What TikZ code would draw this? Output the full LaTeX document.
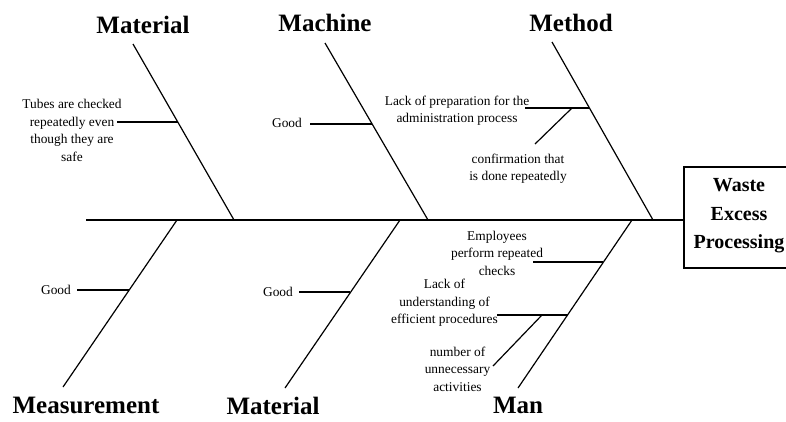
\documentclass[tikz,border=0pt]{standalone}
\usepackage{fontspec}
\setmainfont{Liberation Serif}
\usetikzlibrary{calc}

\tikzset{
  bone/.style={line width=1.2pt},
  twig/.style={line width=1.2pt},
  cause/.style={inner sep=0pt, align=center, font=\fontsize{13.4}{17.5}\selectfont},
  category/.style={inner sep=0pt, font=\fontsize{25}{28}\selectfont\bfseries},
  effect/.style={inner sep=0pt, align=center, font=\fontsize{20}{28.5}\selectfont\bfseries}
}

\begin{document}
\begin{tikzpicture}[x=1pt, y=-1pt]
		\useasboundingbox (0, 0) rectangle (786, 421);
		%%%%% START %%%%%
		% spine and effect box
		\coordinate (tail) at (86, 220);
		\coordinate (head) at (684, 220);
		\draw[line width=2.4pt] (684, 167) rectangle (792, 268);
		\node[effect] (waste) at (739, 216) {Waste\\Excess\\Processing};
		\draw[bone] (tail) -- (head);
		
		% upper bones
		\coordinate (matTop) at (133, 44);
		\coordinate (matFoot) at (234, 220);
		\coordinate (macTop) at (325, 43);
		\coordinate (macFoot) at (428, 220);
		\coordinate (metTop) at (552, 42);
		\coordinate (metFoot) at (653, 220);
		\draw[bone] (matTop) -- (matFoot);
		\draw[bone] (macTop) -- (macFoot);
		\draw[bone] (metTop) -- (metFoot);
		
		% lower bones
		\coordinate (measFoot) at (177, 220);
		\coordinate (measEnd) at (63, 387);
		\coordinate (matbFoot) at (400, 220);
		\coordinate (matbEnd) at (285, 388);
		\coordinate (manFoot) at (632, 220);
		\coordinate (manEnd) at (518, 388);
		\draw[bone] (measFoot) -- (measEnd);
		\draw[bone] (matbFoot) -- (matbEnd);
		\draw[bone] (manFoot) -- (manEnd);
		
		% category labels
		\node[category] (material) at (143, 25) {Material};
		\node[category] (machine) at (325, 23) {Machine};
		\node[category] (method) at (571, 23) {Method};
		\node[category] (measurement) at (86, 405) {Measurement};
		\node[category] (materialb) at (273, 406) {Material};
		\node[category] (man) at (518, 405) {Man};
		
		% Material causes
		\node[cause] (tubes) at (72, 130.5) {Tubes are checked\\repeatedly even\\though they are\\safe};
		\coordinate (tubesA) at (117, 122);
		\coordinate (tubesB) at (178, 122);
		\draw[twig] (tubesA) -- (tubesB);
		
		% Machine causes
		\node[cause] (goodMac) at (287, 123) {Good};
		\coordinate (goodMacA) at (310, 124);
		\coordinate (goodMacB) at (372, 124);
		\draw[twig] (goodMacA) -- (goodMacB);
		
		% Method causes
		\node[cause] (prep) at (457, 110.5) {Lack of preparation for the\\administration process};
		\coordinate (prepA) at (525, 108);
		\coordinate (prepB) at (589, 108);
		\draw[twig] (prepA) -- (prepB);
		\node[cause] (confirm) at (518, 168.5) {confirmation that\\is done repeatedly};
		\coordinate (confirmA) at (572, 108);
		\coordinate (confirmB) at (535, 144);
		\draw[twig] (confirmA) -- (confirmB);
		
		% Measurement causes
		\node[cause] (goodMeas) at (56, 290) {Good};
		\coordinate (goodMeasA) at (77, 290);
		\coordinate (goodMeasB) at (129, 290);
		\draw[twig] (goodMeasA) -- (goodMeasB);
		
		% lower Material causes
		\node[cause] (goodMatb) at (278, 292) {Good};
		\coordinate (goodMatbA) at (299, 292);
		\coordinate (goodMatbB) at (350, 292);
		\draw[twig] (goodMatbA) -- (goodMatbB);
		
		% Man causes
		\node[cause] (employees) at (497, 253) {Employees\\perform repeated\\checks};
		\coordinate (employeesA) at (533, 262);
		\coordinate (employeesB) at (603, 262);
		\draw[twig] (employeesA) -- (employeesB);
		\node[cause] (procedures) at (444.5, 303) {Lack of\\understanding of\\efficient procedures};
		\coordinate (proceduresA) at (497, 315);
		\coordinate (proceduresB) at (568, 315);
		\draw[twig] (proceduresA) -- (proceduresB);
		\node[cause] (activities) at (457.5, 369) {number of\\unnecessary\\activities};
		\coordinate (activitiesA) at (542, 315);
		\coordinate (activitiesB) at (493, 366);
		\draw[twig] (activitiesA) -- (activitiesB);
		%%%%% END %%%%%
\end{tikzpicture}
\end{document}
